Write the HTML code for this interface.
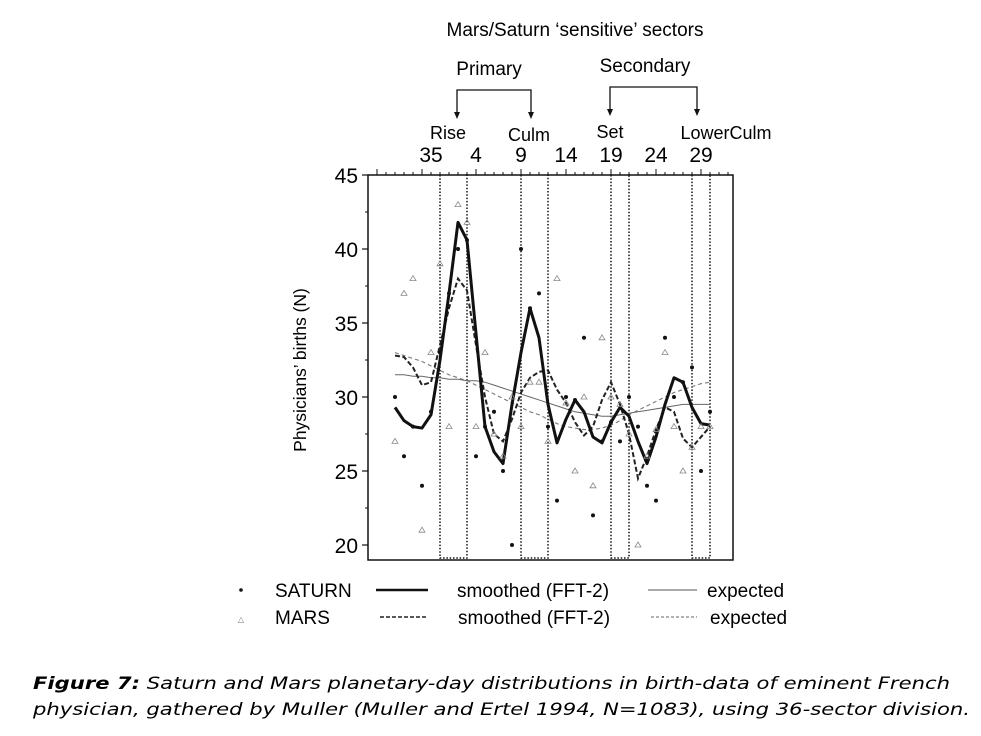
<!DOCTYPE html>
<html><head><meta charset="utf-8"><style>
html,body{margin:0;padding:0;background:#fff;}
svg{display:block;font-family:"Liberation Sans",Arial,sans-serif;}
</style></head><body>
<svg id="chart" width="981" height="736" viewBox="0 0 981 736">
<text x="575" y="36" font-size="19" text-anchor="middle">Mars/Saturn ‘sensitive’ sectors</text>
<text x="489" y="75" font-size="19" text-anchor="middle">Primary</text>
<text x="645" y="72" font-size="19" text-anchor="middle">Secondary</text>
<g stroke="#111" stroke-width="1.3" fill="none">
<path d="M457,115 V90 H531 V115"/></g>
<g stroke="#111" stroke-width="1.3" fill="none">
<path d="M610,112 V87 H697 V112"/></g>
<g fill="#111">
<path d="M454,112 L460,112 L457,119 Z"/><path d="M528,112 L534,112 L531,119 Z"/>
<path d="M607,109 L613,109 L610,116 Z"/><path d="M694,109 L700,109 L697,116 Z"/></g>
<text x="448" y="139" font-size="18" text-anchor="middle">Rise</text>
<text x="529" y="141" font-size="18" text-anchor="middle">Culm</text>
<text x="610" y="138" font-size="18" text-anchor="middle">Set</text>
<text x="726" y="139" font-size="18" text-anchor="middle">LowerCulm</text>
<g id="xticks" font-size="21" text-anchor="middle"></g>
<g id="yticks" font-size="21" text-anchor="end"></g>
<text transform="translate(306,370) rotate(-90)" font-size="17.5" text-anchor="middle">Physicians’ births (N)</text>
<rect x="368" y="175" width="365" height="385" fill="none" stroke="#111" stroke-width="1.5"/>
<g id="boxes"></g>
<g id="marks"></g>
<g font-size="19">
<circle cx="241" cy="590" r="1.8" fill="#111"/>
<text x="275" y="597">SATURN</text>
<text x="241" y="622" font-size="8" fill="#777" text-anchor="middle">△</text>
<text x="275" y="624">MARS</text>
<line x1="376" y1="590" x2="428" y2="590" stroke="#111" stroke-width="2.5"/>
<text x="457" y="597">smoothed (FFT-2)</text>
<line x1="380" y1="617" x2="428" y2="617" stroke="#222" stroke-width="1.6" stroke-dasharray="4,2"/>
<text x="458" y="624">smoothed (FFT-2)</text>
<line x1="648" y1="590" x2="697" y2="590" stroke="#555" stroke-width="1"/>
<text x="707" y="597">expected</text>
<line x1="651" y1="617" x2="697" y2="617" stroke="#666" stroke-width="1" stroke-dasharray="3,2"/>
<text x="710" y="624">expected</text>
</g>
<g font-family="'DejaVu Sans',Verdana,sans-serif" font-size="17" font-style="italic">
<text x="33" y="689" textLength="917" lengthAdjust="spacingAndGlyphs"><tspan font-weight="bold">Figure 7:</tspan> Saturn and Mars planetary-day distributions in birth-data of eminent French</text>
<text x="33" y="715" textLength="937" lengthAdjust="spacingAndGlyphs">physician, gathered by Muller (Muller and Ertel 1994, N=1083), using 36-sector division.</text>
</g>
</svg>
<script>
const sectors=[31,32,33,34,35,36,1,2,3,4,5,6,7,8,9,10,11,12,13,14,15,16,17,18,19,20,21,22,23,24,25,26,27,28,29,30];
const saturnCounts=[30,26,28,24,29,33,37,40,40.6,26,28,29,25,20,40,36,37,28,23,30,29.8,34,22,27,28.3,27,30,28,24,23,34,30,31,32,25,29];
const marsCounts=[27,37,38,21,33,39,28,43,41.8,28,33,27.5,26,30,28,31,31,27,38,29.6,25,30,24,34,30,29.5,27.5,20,26,27.8,33,28,25,26.6,28,28];
const saturnSmoothed=[29.3,28.4,28,27.9,28.8,32.5,37,41.8,40.6,34.3,28,26.3,25.5,29.5,33,36,34,29.5,26.9,28.5,29.8,29,27.3,26.9,28.3,29.3,28.7,27,25.5,27.3,29.5,31.3,31,29.3,28.2,28.1];
const marsSmoothed=[32.8,32.7,32,30.8,31,33.5,36,38,37.2,33.5,30,27.5,27,28.5,30.3,31.3,31.7,31.8,30.5,29.6,28.3,27.4,28,29.8,31,29.5,27.5,24.5,26,27.8,29.3,29,27.2,26.6,27.3,28];
const saturnExpected=[31.5,31.5,31.4,31.4,31.3,31.3,31.2,31.2,31.1,31.1,31,30.8,30.6,30.4,30.2,30,29.8,29.6,29.4,29.2,29,28.9,28.8,28.7,28.7,28.8,28.9,29,29.1,29.2,29.3,29.4,29.5,29.5,29.5,29.5];
const marsExpected=[33,32.8,32.6,32.4,32.1,31.8,31.5,31.3,31.1,30.8,30.5,30.2,29.9,29.6,29.3,29,28.8,28.5,28.2,28,27.9,27.8,27.8,27.9,28.1,28.4,28.8,29.1,29.4,29.7,30,30.3,30.5,30.7,30.9,31];
const xTickLabels=[35,4,9,14,19,24,29];
const yTickValues=[20,25,30,35,40,45];
const sensitiveBoxes=[[36,3],[9,12],[19,21],[28,30]];

const NS='http://www.w3.org/2000/svg';
const X0=395,DX=9;
function xIdx(i){return X0+DX*i;}
function xSector(s){return xIdx(sectors.indexOf(s));}
function y(v){return 545-(v-20)*14.8;}
function mk(tag,attrs,parent){const e=document.createElementNS(NS,tag);for(const k in attrs)e.setAttribute(k,attrs[k]);parent.appendChild(e);return e;}
const svg=document.getElementById('chart');
const marks=document.getElementById('marks');
const xt=document.getElementById('xticks');
const yt=document.getElementById('yticks');
const boxes=document.getElementById('boxes');

for(let i=-3;i<38;i++){const x=xIdx(i);if(x<369||x>732)continue;
 const t=mk('line',{x1:x,x2:x,y1:175,y2:(sectors[((i%36)+36)%36]%5===4)?169:172,stroke:'#111','stroke-width':1},svg);
 
 }
xTickLabels.forEach(s=>{const t=mk('text',{x:xSector(s),y:162},xt);t.textContent=s;
 
 });
yTickValues.forEach(v=>{const t=mk('text',{x:358,y:y(v)+8},yt);t.textContent=v;
 
 
 const l=mk('line',{x1:362,x2:368,y1:y(v),y2:y(v),stroke:'#111','stroke-width':1.2},yt);
 
 
 if(v<45){const m=mk('line',{x1:365,x2:368,y1:y(v+2.5),y2:y(v+2.5),stroke:'#111','stroke-width':1},yt);
 
 }});
sensitiveBoxes.forEach(b=>{const x1=xSector(b[0]),x2=xSector(b[1]);
 const p=mk('path',{d:`M${x1},175 V558 H${x2} V175`,fill:'none',stroke:'#111','stroke-width':1.5,'stroke-dasharray':'1.5,1.8'},boxes);
 
 });
function line(vals,attrs,name){const d=vals.map((v,i)=>(i?'L':'M')+xIdx(i)+','+y(v)).join(' ');
 const p=mk('path',Object.assign({d:d,fill:'none'},attrs),marks);
 
 }
line(saturnExpected,{stroke:'#666','stroke-width':1},'saturn-expected-line');
line(marsExpected,{stroke:'#777','stroke-width':1.1,'stroke-dasharray':'4,3'},'mars-expected-line');
line(marsSmoothed,{stroke:'#222','stroke-width':2,'stroke-dasharray':'5,2.5'},'mars-smoothed-line');
line(saturnSmoothed,{stroke:'#111','stroke-width':3,'stroke-linejoin':'round'},'saturn-smoothed-line');
saturnCounts.forEach((v,i)=>{const c=mk('circle',{cx:xIdx(i),cy:y(v),r:2,fill:'#111'},marks);
 
 });
marsCounts.forEach((v,i)=>{const x=xIdx(i),yy=y(v);
 const p=mk('path',{d:`M${x},${yy-3} L${x+3},${yy+2} L${x-3},${yy+2} Z`,fill:'none',stroke:'#888','stroke-width':0.8},marks);
 
 });
</script>
</body></html>
